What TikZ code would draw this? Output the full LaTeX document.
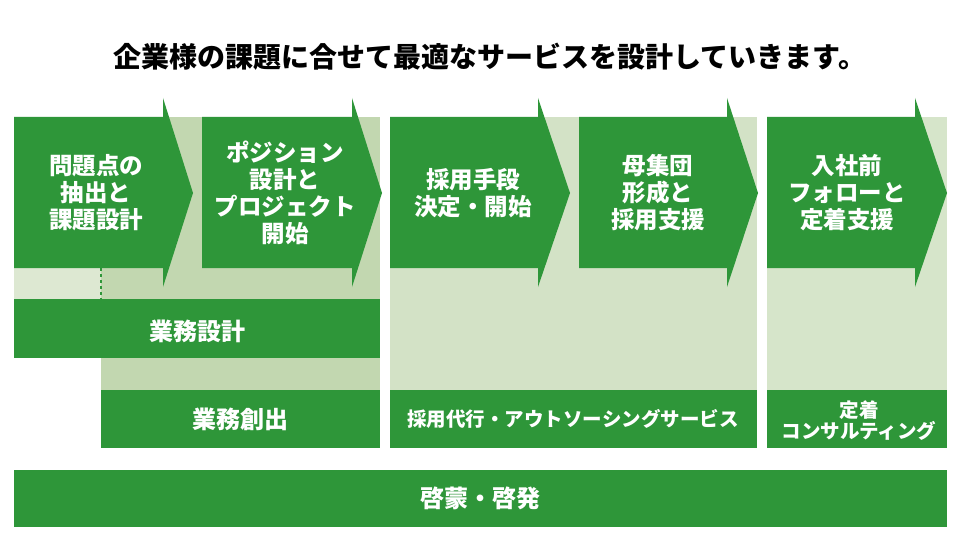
\documentclass[tikz,border=0pt]{standalone}
\usepackage{fontspec}
\setmainfont{Noto Sans CJK JP}
\definecolor{dgreen}{RGB}{46,150,57}
\definecolor{lgreenA}{RGB}{194,215,176}
\definecolor{lgreenB}{RGB}{221,232,210}
\definecolor{lgreenC}{RGB}{211,226,198}
\definecolor{lgreenD}{RGB}{214,229,202}
\tikzset{
  btxt/.style={text=white, font=\bfseries\fontsize{23.5}{27}\selectfont, align=center, inner sep=0pt},
  bartxt/.style={text=white, font=\bfseries\fontsize{24}{27}\selectfont, align=center, inner sep=0pt},
  smalltxt/.style={text=white, font=\bfseries\fontsize{19.5}{21}\selectfont, align=center, inner sep=0pt},
}
\newcommand{\chev}[3]{% x-left, x-rect-right, x-tip
  \fill[dgreen] (#1,117) -- (#2,117) -- (#2,98) -- (#3,193) -- (#2,287) -- (#2,268) -- (#1,268) -- cycle;}
\begin{document}
\begin{tikzpicture}[x=1pt,y=-1pt]
\useasboundingbox[fill=white] (0,0) rectangle (960,540);
% title
\node[font=\bfseries\fontsize{28}{30}\selectfont, text=black, inner sep=0pt] (title) at (490,57) {企業様の課題に合せて最適なサービスを設計していきます。};

% ---- left block ----
\fill[lgreenA] (101,117) rectangle (380,390);
\fill[lgreenB] (14,268) rectangle (101,299);
\draw[dgreen, line width=1.2pt, dash pattern=on 3pt off 3pt] (101,268) -- (101,299);
\chev{14}{163}{193}
\chev{202}{352}{382}
\fill[dgreen] (14,299) rectangle (380,358);
\fill[dgreen] (101,390) rectangle (380,448);
\node[btxt] (a1) at (96,193) {問題点の\\抽出と\\課題設計};
\node[btxt] (a2) at (285,193) {ポジション\\設計と\\プロジェクト\\開始};
\node[bartxt] (b1) at (197,331) {業務設計};
\node[bartxt] (b2) at (240,419) {業務創出};

% ---- middle block ----
\fill[lgreenC] (390,117) rectangle (757,390);
\chev{390}{538}{570}
\chev{579}{727}{758}
\fill[dgreen] (390,390) rectangle (757,448);
\node[btxt] (a3) at (473,193) {採用手段\\決定・開始};
\node[btxt] (a4) at (658,193) {母集団\\形成と\\採用支援};
\node[smalltxt] (b3) at (573,419) {採用代行・アウトソーシングサービス};

% ---- right block ----
\fill[lgreenD] (767,117) rectangle (947,390);
\chev{767}{915}{947}
\fill[dgreen] (767,390) rectangle (947,448);
\node[btxt] (a5) at (847,193) {入社前\\フォローと\\定着支援};
\node[smalltxt] (b4) at (859,421) {定着\\コンサルティング};

% ---- bottom bar ----
\fill[dgreen] (14,470) rectangle (947,527);
\node[bartxt] (b5) at (480,498) {啓蒙・啓発};
\end{tikzpicture}
\end{document}
